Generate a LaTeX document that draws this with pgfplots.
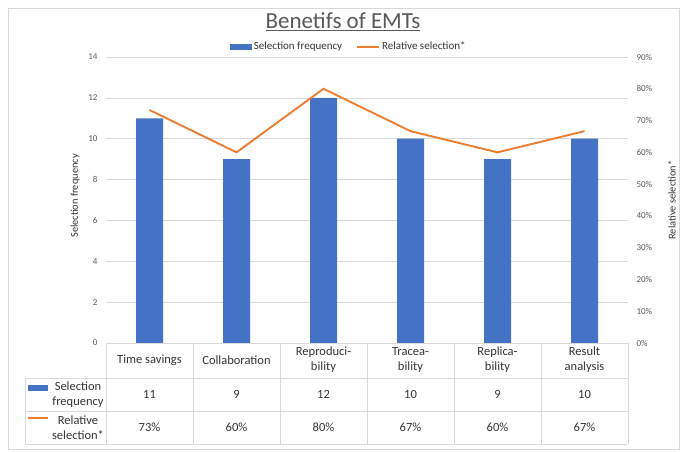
\documentclass[border=0pt]{standalone}
\usepackage{pgfplots}
\pgfplotsset{compat=1.18}
\usepackage{fontspec}
\setmainfont{Carlito}
\definecolor{barblue}{HTML}{4472C4}
\definecolor{lineorange}{HTML}{ED7D31}
\definecolor{ticktxt}{HTML}{595959}
\definecolor{gridc}{HTML}{D9D9D9}
\definecolor{tabtxt}{HTML}{333333}
\definecolor{borderc}{HTML}{D9D9D9}

\pgfplotstableread{
x freq rel
0 11 0.7333
1 9 0.6
2 12 0.8
3 10 0.6667
4 9 0.6
5 10 0.6667
}\datatable

\begin{document}
\begin{tikzpicture}
\path[use as bounding box] (0pt,0pt) rectangle (687pt,-452pt);
\draw[borderc, line width=0.8pt] (8pt,-8pt) rectangle (679pt,-449pt);
% title
\node[font=\fontsize{23}{26}\selectfont, text=ticktxt, anchor=center] at (343pt,-22pt) {\underline{Benetifs of EMTs}};

\begin{axis}[
  at={(106pt,-343pt)}, anchor=south west,
  scale only axis, width=522pt, height=286pt,
  xmin=-0.5, xmax=5.5, ymin=0, ymax=14,
  ytick={0,2,...,14},
  xtick=\empty,
  ymajorgrids, grid style={gridc, line width=0.6pt},
  axis line style={draw=none},
  major tick length=0pt,
  tick label style={font=\fontsize{9}{10}\selectfont, text=ticktxt},
  /pgf/number format/assume math mode=true,
  yticklabel style={xshift=-5pt},
  clip=false,
]
\addplot[ybar, bar width=27pt, fill=barblue, draw=none] table[x=x, y=freq] {\datatable};
\draw[gridc, line width=0.8pt] (axis cs:-0.5,0) -- (axis cs:5.5,0);
\end{axis}

\begin{axis}[
  at={(106pt,-343pt)}, anchor=south west,
  scale only axis, width=522pt, height=286pt,
  xmin=-0.5, xmax=5.5, ymin=0, ymax=0.9,
  ytick={0,0.1,...,0.9},
  yticklabels={0\%,10\%,20\%,30\%,40\%,50\%,60\%,70\%,80\%,90\%},
  xtick=\empty,
  axis y line*=right,
  axis x line=none,
  axis line style={draw=none},
  major tick length=0pt,
  tick label style={font=\fontsize{9}{10}\selectfont, text=ticktxt},
  yticklabel style={xshift=5pt},
  legend style={at={(0.465,1.005)}, anchor=south, draw=none, fill=none,
    font=\fontsize{11}{13}\selectfont, text=tabtxt,
    /tikz/every even column/.append style={column sep=12pt}},
  legend columns=2,
  legend image code/.code={\draw[#1] (0pt,0pt) -- (22pt,0pt);},
]
\addlegendimage{area legend, fill=barblue, draw=none, legend image code/.code={\fill[barblue] (0pt,-3pt) rectangle (22pt,3pt);}}
\addlegendentry{Selection frequency}
\addplot[lineorange, line width=1.9pt, mark=none] table[x=x, y=rel] {\datatable};
\addlegendentry{Relative selection*}
\end{axis}

% axis titles
\node[rotate=90, font=\fontsize{10.4}{12}\selectfont, text=tabtxt] at (75pt,-196pt) {Selection frequency};
\node[rotate=90, font=\fontsize{10.4}{12}\selectfont, text=tabtxt] at (672pt,-200pt) {Relative selection*};

% data table grid
\begin{scope}[draw=gridc, line width=0.8pt]
\draw (25pt,-378pt) -- (628pt,-378pt);
\draw (25pt,-411pt) -- (628pt,-411pt);
\draw (25pt,-444pt) -- (628pt,-444pt);
\draw (25pt,-378pt) -- (25pt,-444pt);
\foreach \xx in {106,193,280,367,454,541,628} {\draw (\xx pt,-343pt) -- (\xx pt,-444pt);}
\end{scope}

\begin{scope}[every node/.style={font=\fontsize{12.5}{15}\selectfont, text=tabtxt, align=center, inner sep=0pt}]
\node at (149.5pt,-360pt) {Time savings};
\node at (236.5pt,-360pt) {Collaboration};
\node at (323.5pt,-360pt) {Reproduci-\\bility};
\node at (410.5pt,-360pt) {Tracea-\\bility};
\node at (497.5pt,-360pt) {Replica-\\bility};
\node at (584.5pt,-360pt) {Result\\analysis};
\node at (149.5pt,-394pt) {11};
\node at (236.5pt,-394pt) {9};
\node at (323.5pt,-394pt) {12};
\node at (410.5pt,-394pt) {10};
\node at (497.5pt,-394pt) {9};
\node at (584.5pt,-394pt) {10};
\node at (149.5pt,-427.5pt) {73\%};
\node at (236.5pt,-427.5pt) {60\%};
\node at (323.5pt,-427.5pt) {80\%};
\node at (410.5pt,-427.5pt) {67\%};
\node at (497.5pt,-427.5pt) {60\%};
\node at (584.5pt,-427.5pt) {67\%};
\node at (78pt,-394.5pt) {Selection\\frequency};
\node at (78pt,-427.5pt) {Relative\\selection*};
\end{scope}
\fill[barblue] (28pt,-385pt) rectangle (48pt,-391pt);
\draw[lineorange, line width=1.9pt] (28pt,-418pt) -- (48pt,-418pt);
\end{tikzpicture}
\end{document}
